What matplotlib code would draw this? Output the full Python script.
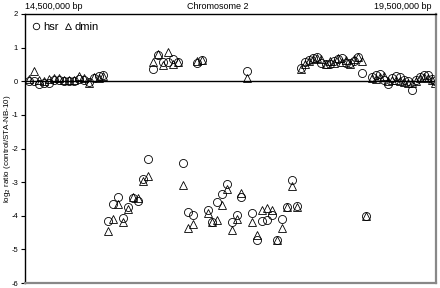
import matplotlib
matplotlib.use("Agg")
import matplotlib.pyplot as plt

plt.rcParams['font.family'] = ['Liberation Sans', 'DejaVu Sans']

# probe positions (Mb on chromosome 2)
pos_near0 = [14.55, 14.61, 14.67, 14.73, 14.79, 14.85, 14.91, 14.97, 15.04, 15.10,
             15.16, 15.22, 15.28, 15.34, 15.40, 15.45]
hsr_near0 = [0.0, 0.0, -0.07, -0.05, -0.05, 0.05, 0.05, 0.0, 0.0, 0.02,
             0.08, 0.05, -0.03, 0.10, 0.15, 0.18]
dmin_near0 = [0.08, 0.29, 0.05, 0.0, 0.08, 0.10, 0.10, 0.05, 0.05, 0.05,
              0.15, 0.10, -0.05, 0.12, 0.10, 0.15]

pos_gain1 = [16.06, 16.12, 16.18, 16.24, 16.30, 16.36, 16.59, 16.65, 17.20]
hsr_gain1 = [0.37, 0.79, 0.56, 0.56, 0.67, 0.56, 0.53, 0.64, 0.29]
dmin_gain1 = [0.58, 0.80, 0.47, 0.86, 0.52, 0.58, 0.60, 0.64, 0.10]

pos_gain2 = [17.86, 17.91, 17.96, 18.00, 18.05, 18.10, 18.16, 18.21, 18.26, 18.31,
             18.36, 18.41, 18.45, 18.50, 18.55, 18.60]
hsr_gain2 = [0.40, 0.58, 0.62, 0.68, 0.72, 0.55, 0.50, 0.50, 0.60, 0.65,
             0.70, 0.55, 0.55, 0.60, 0.72, 0.26]
dmin_gain2 = [0.35, 0.50, 0.60, 0.65, 0.70, 0.65, 0.50, 0.60, 0.55, 0.68,
              0.58, 0.62, 0.50, 0.65, 0.72, 0.60]

pos_tail = [18.72, 18.77, 18.82, 18.87, 18.92, 18.96, 19.01, 19.06, 19.11, 19.16,
            19.21, 19.26, 19.31, 19.35, 19.40, 19.45, 19.49]
hsr_tail = [0.12, 0.18, 0.22, 0.05, -0.08, 0.10, 0.15, 0.12, 0.05, 0.0,
            -0.25, 0.05, 0.12, 0.20, 0.18, 0.08, 0.0]
dmin_tail = [0.10, 0.08, 0.12, 0.15, 0.0, 0.05, 0.05, 0.0, -0.02, -0.05,
             -0.05, 0.0, 0.10, 0.12, 0.10, 0.05, -0.04]

pos_loss = [15.51, 15.57, 15.63, 15.69, 15.75, 15.81, 15.88, 15.94, 16.00, 16.42,
            16.48, 16.54, 16.73, 16.78, 16.84, 16.90, 16.96, 17.02, 17.08, 17.13,
            17.26, 17.32, 17.38, 17.44, 17.51, 17.57, 17.63, 17.69, 17.75, 17.81, 18.65]
hsr_loss = [-4.15, -3.64, -3.43, -4.06, -3.73, -3.46, -3.55, -2.90, -2.31, -2.42,
            -3.88, -3.97, -3.82, -4.18, -3.58, -3.35, -3.05, -4.18, -3.97, -3.43,
            -3.91, -4.71, -4.15, -4.12, -3.97, -4.71, -4.09, -3.73, -2.93, -3.70, -4.00]
dmin_loss = [-4.44, -4.09, -3.64, -4.18, -3.79, -3.43, -3.46, -2.96, -2.81, -3.10,
             -4.36, -4.24, -3.91, -4.18, -4.12, -3.67, -3.20, -4.42, -4.09, -3.31,
             -4.18, -4.56, -3.82, -3.76, -3.82, -4.71, -4.36, -3.73, -3.11, -3.73, -4.02]

positions = pos_near0 + pos_gain1 + pos_gain2 + pos_tail + pos_loss
hsr = hsr_near0 + hsr_gain1 + hsr_gain2 + hsr_tail + hsr_loss
dmin = dmin_near0 + dmin_gain1 + dmin_gain2 + dmin_tail + dmin_loss

yticks = [-6, -5, -4, -3, -2, -1, 0, 1, 2]
x_start, x_end = 14.5, 19.5

fig = plt.figure(figsize=(4.4, 2.88), dpi=100)
ax = fig.add_axes([25/440, 1 - 283/288, 411/440, 269/288])

ax.plot(positions, dmin, linestyle='none', marker='^', markersize=5.2,
        markerfacecolor='none', markeredgecolor='black', markeredgewidth=0.6, label='dmin')
ax.plot(positions, hsr, linestyle='none', marker='o', markersize=5.8,
        markerfacecolor='none', markeredgecolor='black', markeredgewidth=0.6, label='hsr')
ax.axhline(0, color='black', linewidth=1.0)

ax.set_xlim(x_start, x_end)
ax.set_ylim(-6, 2)
ax.set_yticks(yticks)
ax.set_yticklabels([str(t) for t in yticks], fontsize=5.5)
ax.set_xticks([])
ax.tick_params(axis='y', length=3, width=0.8, pad=2)

ax.spines['left'].set_color('black')
ax.spines['left'].set_linewidth(1.0)
ax.spines['top'].set_color('black')
ax.spines['top'].set_linewidth(1.0)
ax.spines['right'].set_color('#888888')
ax.spines['right'].set_linewidth(1.6)
ax.spines['bottom'].set_color('#888888')
ax.spines['bottom'].set_linewidth(1.6)

ax.set_ylabel('log$_2$ ratio (control/STA-NB-10)', fontsize=5.8)
ax.yaxis.set_label_coords(-0.030, 0.5)

ax.text(0.0, 1.012, '14,500,000 bp', transform=ax.transAxes, fontsize=6.5,
        ha='left', va='bottom')
ax.text(0.99, 1.012, '19,500,000 bp', transform=ax.transAxes, fontsize=6.5,
        ha='right', va='bottom')
ax.text(0.47, 1.012, 'Chromosome 2', transform=ax.transAxes, fontsize=6.5,
        ha='center', va='bottom')

h_d, h_h = ax.get_legend_handles_labels()[0]
leg = ax.legend([h_h, h_d], ['hsr', 'dmin'], loc='upper left', ncol=2, frameon=False,
                fontsize=8, handlelength=0.6, handletextpad=0.3, columnspacing=0.6,
                borderaxespad=0.3, markerscale=0.8)

fig.savefig('out.png', dpi=100)
